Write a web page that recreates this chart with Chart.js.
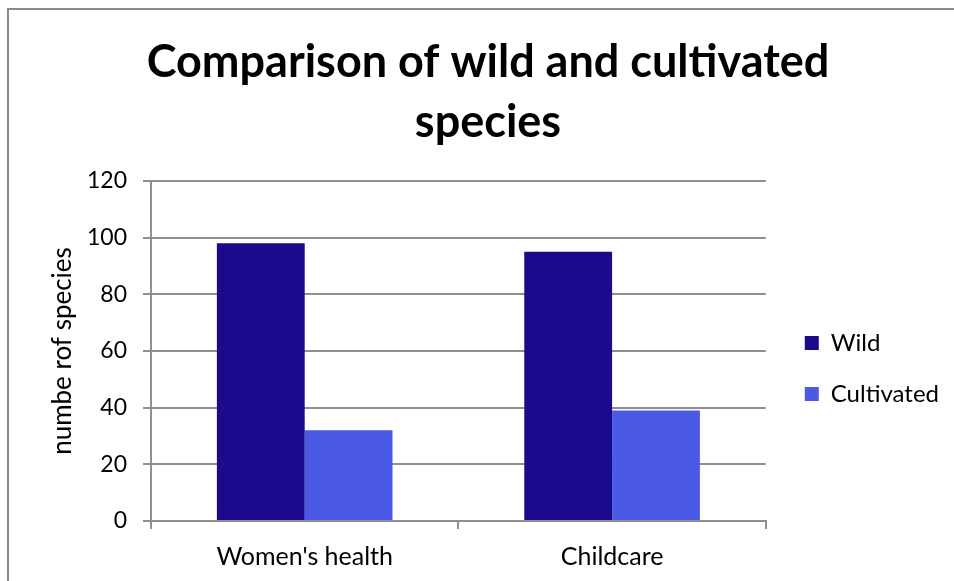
<!DOCTYPE html>
<html>
<head>
<meta charset="utf-8">
<title>Comparison of wild and cultivated species</title>
<script src="https://cdn.jsdelivr.net/npm/chart.js@4.4.1/dist/chart.umd.min.js"></script>
<style>
  html, body { margin: 0; padding: 0; background: #ffffff; }
  #wrap { width: 954px; height: 581px; position: relative; }
</style>
</head>
<body>
<div id="wrap"><canvas id="chart" width="954" height="581"></canvas></div>
<script>
// Species counts by use category
const categories = ["Women's health", "Childcare"];
const seriesNames = ["Wild", "Cultivated"];
const wildCounts = [98, 95];
const cultivatedCounts = [32, 39];
const yAxisMin = 0;
const yAxisMax = 120;
const yAxisStep = 20;

const titleLines = ["Comparison of wild and cultivated", "species"];
const yAxisTitle = "numbe rof species";

const fontFamily = "Lato, 'Open Sans', sans-serif";
const gridColor = "#8f8f8f";

Chart.defaults.font.family = fontFamily;
Chart.defaults.color = "#000000";

// White page with the thin frame on the left and top edges
const framePlugin = {
  id: "frame",
  beforeDraw(chart) {
    const ctx = chart.ctx;
    ctx.save();
    ctx.fillStyle = "#ffffff";
    ctx.fillRect(0, 0, chart.width, chart.height);
    ctx.strokeStyle = "#8a8a8a";
    ctx.lineWidth = 2;
    ctx.beginPath();
    ctx.moveTo(8, chart.height);
    ctx.lineTo(8, 9);
    ctx.lineTo(chart.width, 9);
    ctx.stroke();
    ctx.restore();
  }
};

function drawChart() {
  new Chart(document.getElementById("chart"), {
    type: "bar",
    data: {
      labels: categories,
      datasets: [
        {
          label: seriesNames[0],
          data: wildCounts,
          backgroundColor: "#1b0a8c",
          borderWidth: 0,
          xAxisID: "x",
          yAxisID: "y"
        },
        {
          label: seriesNames[1],
          data: cultivatedCounts,
          backgroundColor: "#4a5ae4",
          borderWidth: 0,
          xAxisID: "x",
          yAxisID: "y"
        }
      ]
    },
    options: {
      responsive: false,
      animation: false,
      devicePixelRatio: 1,
      layout: { padding: { left: 27, right: 5, top: 0, bottom: 0 } },
      datasets: {
        bar: { categoryPercentage: 0.5714, barPercentage: 1.0 }
      },
      plugins: {
        tooltip: { enabled: false },
        title: {
          display: true,
          text: titleLines,
          color: "#000000",
          font: { size: 45, weight: "bold", lineHeight: 60 / 45 },
          padding: { top: 32, bottom: 29 }
        },
        legend: {
          position: "right",
          fullSize: false,
          maxWidth: 400,
          title: {
            display: true,
            text: " ",
            font: { size: 20, lineHeight: 1.2 },
            padding: { top: 11, bottom: 0 }
          },
          labels: {
            boxWidth: 14,
            boxHeight: 14,
            padding: 27,
            color: "#000000",
            font: { size: 24 }
          }
        }
      },
      scales: {
        x: {
          type: "category",
          position: "bottom",
          offset: true,
          grid: {
            display: true,
            offset: true,
            drawOnChartArea: false,
            drawTicks: true,
            tickLength: 8,
            color: gridColor,
            lineWidth: 2
          },
          border: { display: true, color: gridColor, width: 2 },
          ticks: { color: "#000000", font: { size: 25 }, padding: 13, maxRotation: 0, autoSkip: false },
          afterFit(scale) { scale.height = 60; }
        },
        y: {
          type: "linear",
          position: "left",
          min: yAxisMin,
          max: yAxisMax,
          grid: {
            display: true,
            drawTicks: true,
            tickLength: 8,
            color: gridColor,
            lineWidth: 2
          },
          border: { display: true, color: gridColor, width: 2 },
          ticks: { stepSize: yAxisStep, color: "#000000", font: { size: 23 }, padding: 16 },
          title: {
            display: true,
            text: yAxisTitle,
            color: "#000000",
            font: { size: 26 },
            padding: { top: 20, bottom: 0 }
          },
          afterFit(scale) { scale.width = 124; }
        },
        // narrow spacer between the plot and the legend
        gap: {
          type: "linear",
          position: "right",
          display: true,
          grid: { display: false },
          border: { display: false },
          ticks: { display: false },
          afterFit(scale) { scale.width = 12; }
        }
      }
    },
    plugins: [framePlugin]
  });
}

// Make sure the text metrics come from the real face before layout
Promise.all([
  document.fonts.load("23px Lato"),
  document.fonts.load("bold 45px Lato")
]).catch(() => {}).then(drawChart);
</script>
</body>
</html>
